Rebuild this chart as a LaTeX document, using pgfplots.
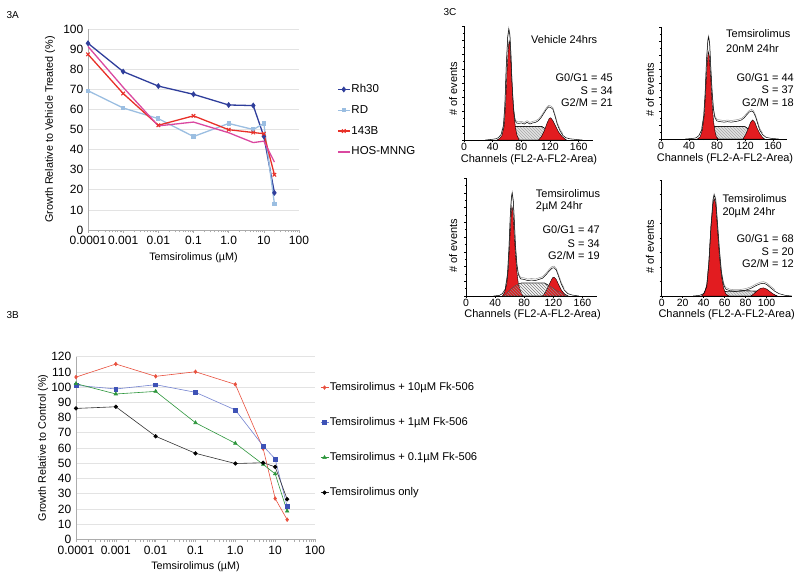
\documentclass[border=0pt]{standalone}
\usepackage{fontspec}
\setmainfont{Liberation Sans}
\usepackage{pgfplots}
\pgfplotsset{compat=1.18}
\usetikzlibrary{patterns}

\definecolor{rhblue}{RGB}{47,62,155}
\definecolor{rdblue}{RGB}{155,190,225}
\definecolor{redB}{RGB}{232,48,40}
\definecolor{hos}{RGB}{218,72,160}
\definecolor{fkred}{RGB}{232,80,62}
\definecolor{fkblue}{RGB}{62,82,182}
\definecolor{fkblueline}{RGB}{115,130,208}
\definecolor{fkgreen}{RGB}{45,150,60}
\definecolor{histred}{RGB}{226,28,32}

\pgfplotsset{
  excelax/.style={scale only axis, axis lines*=left,
    axis line style={gray!65, line width=0.6pt},
    ymajorgrids, grid style={gray!22, line width=0.6pt},
    xmin=1e-4, xmax=100,
    xtick={1e-4,1e-3,1e-2,1e-1,1,10,100},
    xticklabels={0.0001,0.001,0.01,0.1,1.0,10,100},
    tick style={gray!65, line width=0.5pt}, tick align=outside,
    major tick length=3pt, minor tick length=2.5pt,
    ytick style={draw=none},
    ticklabel style={font=\fontsize{12}{14}\selectfont},
    yticklabel style={inner sep=1.5pt},
    /pgf/number format/assume math mode=true,
    label style={font=\fontsize{10.8}{12}\selectfont},
    clip=false},
  histax/.style={scale only axis, axis lines*=left,
    axis line style={black, line width=0.5pt},
    ymin=0, ymax=100, ytick={0,12.5,...,100}, yticklabels={},
    minor y tick num=1, tick align=outside,
    major tick length=2pt, minor tick length=1.2pt,
    tick style={black, line width=0.4pt}, minor x tick num=3,
    ticklabel style={font=\fontsize{10.5}{12}\selectfont, inner sep=1pt},
    /pgf/number format/assume math mode=true,
    label style={font=\fontsize{11}{13}\selectfont},
    ylabel={\# of events}, xlabel={Channels (FL2-A-FL2-Area)},
    clip=false},
  sphase/.style={fill=gray!22, draw=black, line width=0.4pt,
    postaction={pattern=north west lines, pattern color=gray!70}},
  gpeak/.style={fill=histred, draw=black, line width=0.4pt},
  envA/.style={black, line width=0.5pt},
  envB/.style={gray!80, line width=0.5pt},
}

\begin{document}
\begin{tikzpicture}[x=1pt,y=1pt]
\path[use as bounding box] (0,0) rectangle (800,576);

% panel labels
\node[anchor=west, font=\fontsize{10}{12}\selectfont] at (3,561) {3A};
\node[anchor=west, font=\fontsize{10}{12}\selectfont] at (3,261) {3B};
\node[anchor=west, font=\fontsize{10}{12}\selectfont] at (440,564) {3C};

% ---------------- 3A ----------------
\begin{axis}[xmode=log, excelax, at={(88pt,346pt)}, anchor=south west,
  width=211pt, height=201pt, ymin=0, ymax=100, ytick={0,10,...,100},
  xlabel={Temsirolimus (µM)},
  ylabel={Growth Relative to Vehicle Treated (\%)},
  xlabel style={at={(axis description cs:0.5,-0.139)}, anchor=center},
  ylabel style={at={(axis description cs:-0.18,0.5)}, anchor=center},
  legend style={at={(axis description cs:1.18,0.73)}, anchor=north west,
    draw=none, fill=none, inner sep=0pt, row sep=8.8pt,
    font=\fontsize{11.5}{13}\selectfont,
    nodes={inner sep=1pt, text height=8pt, text depth=2pt}},
  legend cell align=left,
  legend image code/.code={\draw[mark repeat=2,mark phase=2] plot coordinates {(0pt,0pt)(6pt,0pt)(12pt,0pt)};}
]
\addplot[rhblue, line width=1.3pt, mark=diamond*, mark size=2pt] coordinates
 {(0.0001,92.9)(0.001,78.8)(0.01,71.6)(0.1,67.5)(1,62.2)(5,61.9)(10,46.6)(20,18.5)};
\addlegendentry{Rh30}
\addplot[rdblue, line width=1.3pt, mark=square*, mark size=1.5pt] coordinates
 {(0.0001,69.3)(0.001,60.7)(0.01,55.4)(0.1,46.5)(1,53)(5,50)(10,53)(20,13)};
\addlegendentry{RD}
\addplot[redB, line width=1.3pt, mark=x, mark size=2.5pt, mark options={line width=1pt}] coordinates
 {(0.0001,87.4)(0.001,67.9)(0.01,52.1)(0.1,56.8)(1,49.9)(5,48.5)(10,47.9)(20,27.5)};
\addlegendentry{143B}
\addplot[hos, line width=1.3pt] coordinates
 {(0.0001,91.3)(0.001,71)(0.01,51.8)(0.1,53.7)(1,48.4)(5,43.5)(10,44.2)(20,33.8)};
\addlegendentry{HOS-MNNG}
\end{axis}

% ---------------- 3B ----------------
\begin{axis}[xmode=log, excelax, at={(76pt,36.7pt)}, anchor=south west,
  width=239pt, height=182.6pt, ymin=0, ymax=120, ytick={0,10,...,120},
  xlabel={Temsirolimus (µM)},
  ylabel={Growth Relative to Control (\%)},
  xlabel style={at={(axis description cs:0.5,-0.15)}, anchor=center},
  ylabel style={at={(axis description cs:-0.138,0.5)}, anchor=center},
  legend style={at={(axis description cs:1.021,0.865)}, anchor=north west,
    draw=none, fill=none, inner sep=0pt, row sep=23pt,
    font=\fontsize{11.2}{13}\selectfont,
    nodes={inner sep=1pt, text height=8pt, text depth=2pt}},
  legend cell align=left,
  legend image code/.code={\draw[mark repeat=2,mark phase=2] plot coordinates {(0pt,0pt)(4pt,0pt)(8pt,0pt)};}
]
\addplot[fkred, line width=0.6pt, mark=diamond*, mark size=1.8pt] coordinates
 {(0.0001,106.6)(0.001,115.2)(0.01,107.1)(0.1,110.1)(1,101.8)(5,59.6)(10,26.8)(20,12.9)};
\addlegendentry{Temsirolimus + 10µM Fk-506}
\addplot[fkblueline, line width=0.6pt, mark=square*, mark size=1.9pt, mark options={fill=fkblue, draw=fkblue}] coordinates
 {(0.0001,101.2)(0.001,98.8)(0.01,101.6)(0.1,96.6)(1,85)(5,61.3)(10,52.8)(20,21.5)};
\addlegendentry{Temsirolimus + 1µM Fk-506}
\addplot[fkgreen, line width=0.6pt, mark=triangle*, mark size=2pt] coordinates
 {(0.0001,102.3)(0.001,95.5)(0.01,97.2)(0.1,76.6)(1,63.1)(5,49.2)(10,43)(20,18.5)};
\addlegendentry{Temsirolimus + 0.1µM Fk-506}
\addplot[black!80, line width=0.6pt, mark=*, mark size=1.8pt, mark options={fill=black, draw=black}] coordinates
 {(0.0001,86)(0.001,87.1)(0.01,67.7)(0.1,56.5)(1,49.8)(5,50.3)(10,47.6)(20,26.3)};
\addlegendentry{Temsirolimus only}
\end{axis}

% ---------------- 3C top-left ----------------
\begin{axis}[histax, at={(464pt,436pt)}, anchor=south west, width=129pt, height=114pt,
  xmin=0, xmax=180, xtick={0,40,...,160},
  ylabel style={at={(axis description cs:-0.083,0.447)}, anchor=center},
  xlabel style={at={(axis description cs:0.504,-0.169)}, anchor=center}]
\addplot[sphase] coordinates {(50,0)(56,5)(62,9)(70,12)(108,12)(116,9)(126,4)(138,0)} \closedcycle;
\addplot[gpeak] coordinates {(46,0)(50,1.5)(53,4)(56,12)(58,30)(60,60)(62,82)(63,87)(64,84)(66,62)(68,38)(70,20)(72,10)(74,4)(77,0)} \closedcycle;
\addplot[gpeak] coordinates {(104,0)(108,3)(112,8)(116,15)(119,19)(121,19.5)(124,17)(128,12)(132,7)(137,3)(143,0)} \closedcycle;
\addplot[envB, yshift=1.6pt] coordinates {(52,5)(55,12)(57,30)(59,65)(61,90)(62.5,97)(64,92)(65.5,75)(67,50)(69,28)(71,18)(73,15)(76,14.5)(80,15)(84,14)(88,15.5)(92,14)(96,15)(100,15.5)(104,17)(108,20)(112,24)(115,27)(118,29)(121,28.5)(124,27)(127,21)(130,14)(134,8)(138,4)};
\addplot[envA] coordinates {(30,0)(38,0.5)(44,1)(48,2)(52,5)(55,12)(57,30)(59,65)(61,90)(62.5,97)(64,92)(65.5,75)(67,50)(69,28)(71,18)(73,15)(76,14.5)(80,15)(84,14)(88,15.5)(92,14)(96,15)(100,15.5)(104,17)(108,20)(112,24)(115,27)(118,29)(121,28.5)(124,27)(127,21)(130,14)(134,8)(138,4)(142,2)(148,1)(156,0.5)(165,0)};
\end{axis}

% ---------------- 3C top-right ----------------
\begin{axis}[histax, at={(661pt,437pt)}, anchor=south west, width=126pt, height=112pt,
  xmin=0, xmax=180, xtick={0,40,...,160},
  ylabel style={at={(axis description cs:-0.087,0.4375)}, anchor=center},
  xlabel style={at={(axis description cs:0.508,-0.172)}, anchor=center}]
\addplot[sphase] coordinates {(56,0)(62,5)(68,9)(75,11)(120,11)(127,8)(133,4)(140,0)} \closedcycle;
\addplot[gpeak] coordinates {(52,0)(56,2)(59,8)(62,22)(64,45)(66,68)(67.5,78)(69,74)(71,55)(73,32)(75,16)(77,7)(79,2)(82,0)} \closedcycle;
\addplot[gpeak] coordinates {(117,0)(121,4)(125,10)(128,15)(131,17)(134,15)(137,10)(141,5)(145,1.5)(148,0)} \closedcycle;
\addplot[envB, yshift=1.6pt] coordinates {(58,8)(61,20)(63,40)(65,70)(67,88)(68,91)(69.5,85)(71,65)(73,42)(75,26)(77,19)(80,16)(85,15.5)(90,15)(95,15.5)(100,15)(105,15.5)(110,16)(115,17)(119,19)(123,22)(126,24)(129,25)(132,24)(135,20)(138,14)(141,8)(145,4)};
\addplot[envA] coordinates {(35,0)(45,0.5)(50,1)(54,3)(58,8)(61,20)(63,40)(65,70)(67,88)(68,91)(69.5,85)(71,65)(73,42)(75,26)(77,19)(80,16)(85,15.5)(90,15)(95,15.5)(100,15)(105,15.5)(110,16)(115,17)(119,19)(123,22)(126,24)(129,25)(132,24)(135,20)(138,14)(141,8)(145,4)(150,1.5)(158,0.5)(168,0)};
\end{axis}

% ---------------- 3C bottom-left ----------------
\begin{axis}[histax, at={(466pt,280pt)}, anchor=south west, width=131pt, height=118pt,
  xmin=0, xmax=180, xtick={0,40,...,160},
  ylabel style={at={(axis description cs:-0.097,0.424)}, anchor=center},
  xlabel style={at={(axis description cs:0.508,-0.161)}, anchor=center}]
\addplot[fill=white, draw=black, line width=0.4pt, postaction={pattern=north west lines, pattern color=gray!80}] coordinates {(52,0)(60,5)(68,9)(76,11)(108,11)(116,8)(126,4)(140,0)} \closedcycle;
\addplot[gpeak] coordinates {(50,0)(53,3)(56,10)(58,22)(60,45)(62,68)(63,76)(64.5,72)(66,55)(68,35)(70,20)(72,10)(75,4)(78,0)} \closedcycle;
\addplot[gpeak] coordinates {(105,0)(109,3)(113,8)(116,12)(119,15.5)(121,16)(124,14)(127,10)(131,5)(135,2)(140,0)} \closedcycle;
\addplot[draw=black!70, line width=0.4pt, pattern=north west lines, pattern color=black!45] coordinates {(52,0)(60,5)(68,9)(76,11)(108,11)(116,8)(126,4)(140,0)} \closedcycle;
\addplot[envB, yshift=1.6pt] coordinates {(54,6)(57,18)(59,40)(61,70)(62.5,84)(63.5,87)(65,80)(66.5,62)(68,42)(70,26)(72,18)(75,14.5)(80,14)(85,13)(90,13.5)(95,13)(100,14)(105,15)(110,18)(114,21)(118,23.5)(121,24)(124,22)(127,17)(131,10)(135,5)};
\addplot[envA] coordinates {(38,0)(46,0.5)(50,2)(54,6)(57,18)(59,40)(61,70)(62.5,84)(63.5,87)(65,80)(66.5,62)(68,42)(70,26)(72,18)(75,14.5)(80,14)(85,13)(90,13.5)(95,13)(100,14)(105,15)(110,18)(114,21)(118,23.5)(121,24)(124,22)(127,17)(131,10)(135,5)(140,2)(146,0.8)(155,0)};
\end{axis}

% ---------------- 3C bottom-right ----------------
\begin{axis}[histax, at={(661.7pt,280pt)}, anchor=south west, width=130pt, height=116pt,
  xmin=0, xmax=124, xtick={0,20,...,100},
  ylabel style={at={(axis description cs:-0.09,0.425)}, anchor=center},
  xlabel style={at={(axis description cs:0.5,-0.164)}, anchor=center}]
\addplot[sphase] coordinates {(44,0)(52,2.5)(60,4)(80,4.5)(95,4)(102,2.5)(110,0)} \closedcycle;
\addplot[gpeak] coordinates {(38,0)(41,3)(43,10)(45,30)(47,60)(49,80)(50,84)(51.5,80)(53,60)(55,35)(57,17)(59,7)(61,2)(64,0)} \closedcycle;
\addplot[gpeak] coordinates {(85,0)(88,2)(91,4.5)(94,6.5)(97,7)(100,6)(103,4)(106,2)(110,0)} \closedcycle;
\addplot[envB, yshift=1.6pt] coordinates {(43,8)(45,28)(47,60)(49,83)(50,87)(51.5,83)(53,65)(55,40)(57,20)(59,10)(61,6)(65,4.5)(70,4)(75,4.2)(80,5)(85,6.5)(90,9)(94,10.5)(97,11)(100,10)(104,7)(108,4)};
\addplot[envA] coordinates {(30,0)(36,0.5)(40,2)(43,8)(45,28)(47,60)(49,83)(50,87)(51.5,83)(53,65)(55,40)(57,20)(59,10)(61,6)(65,4.5)(70,4)(75,4.2)(80,5)(85,6.5)(90,9)(94,10.5)(97,11)(100,10)(104,7)(108,4)(112,2)(118,0.5)(124,0)};
\end{axis}

% ---------------- 3C annotations ----------------
\begin{scope}[every node/.style={font=\fontsize{11}{13}\selectfont, inner sep=0pt}]
\node[anchor=west] at (531,536) {Vehicle 24hrs};
\node[anchor=east] at (613,498) {G0/G1 = 45};
\node[anchor=east] at (613,485.7) {S = 34};
\node[anchor=east] at (613,473.5) {G2/M = 21};

\node[anchor=west] at (726,542) {Temsirolimus};
\node[anchor=west] at (726,527.7) {20nM 24hr};
\node[anchor=east] at (794,498.3) {G0/G1 = 44};
\node[anchor=east] at (794,486) {S = 37};
\node[anchor=east] at (794,473.7) {G2/M = 18};

\node[anchor=west] at (535.7,382.7) {Temsirolimus};
\node[anchor=west] at (535.7,369.3) {2µM 24hr};
\node[anchor=east] at (600,346) {G0/G1 = 47};
\node[anchor=east] at (600,332.7) {S = 34};
\node[anchor=east] at (600,320.3) {G2/M = 19};

\node[anchor=west] at (722.3,377) {Temsirolimus};
\node[anchor=west] at (722.3,363.7) {20µM 24hr};
\node[anchor=east] at (794,337.7) {G0/G1 = 68};
\node[anchor=east] at (794,324.7) {S = 20};
\node[anchor=east] at (794,312.3) {G2/M = 12};
\end{scope}
\end{tikzpicture}
\end{document}
